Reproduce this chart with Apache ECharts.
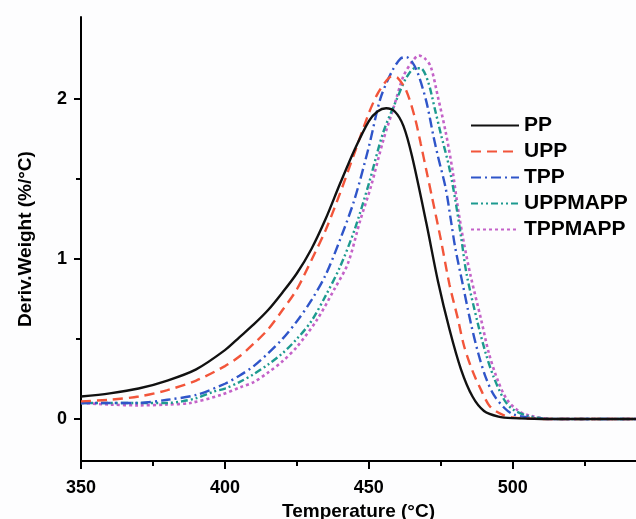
<!DOCTYPE html>
<html>
<head>
<meta charset="utf-8">
<script src="https://cdn.jsdelivr.net/npm/echarts@6/dist/echarts.min.js"></script>
<style>
html,body{margin:0;padding:0;background:#fdfdfe;}
#c{width:636px;height:519px;}
</style>
</head>
<body>
<div id="c"></div>
<script>
// ---- data ----
const seriesNames = ['PP', 'UPP', 'TPP', 'UPPMAPP', 'TPPMAPP'];

const ppT = [350,360,370,380,390,400,405,410,415,420,425,430,435,440,445,450,453,456,459,462,465,470,474,478,482,486,490,495,500,510,543];
const ppV = [0.14,0.16,0.19,0.24,0.31,0.43,0.51,0.59,0.68,0.79,0.91,1.06,1.25,1.47,1.68,1.86,1.92,1.94,1.92,1.83,1.64,1.22,0.86,0.56,0.31,0.14,0.05,0.015,0.005,0,0];

const uppT = [350,360,370,380,390,400,405,410,415,420,425,430,435,440,445,450,453,456,458,460,463,466,468,470,472,475,478,481,483,486,489,492,496,500,510,543];
const uppV = [0.11,0.12,0.14,0.18,0.24,0.33,0.39,0.47,0.56,0.68,0.81,0.99,1.18,1.41,1.66,1.91,2.03,2.11,2.14,2.13,2.05,1.88,1.72,1.55,1.38,1.12,0.84,0.62,0.46,0.30,0.18,0.08,0.03,0.01,0,0];

const tppT = [350,360,370,380,390,400,405,410,415,420,425,430,435,440,445,450,454,458,461,463,465,467,470,472.5,474,476.7,478.5,480,482.5,485.4,488,490.6,493.4,497,500,505,512,543];
const tppV = [0.10,0.10,0.10,0.12,0.15,0.22,0.27,0.33,0.41,0.50,0.61,0.74,0.90,1.12,1.37,1.70,2.00,2.17,2.25,2.26,2.23,2.16,1.98,1.76,1.64,1.44,1.24,1.07,0.85,0.60,0.41,0.26,0.15,0.07,0.03,0.01,0,0];

const uppmappT = [350,360,370,380,385,390,396,400,405,410,415,420,425,430,435,440,445,450,455,460,463,466,468,470.5,473,475,477.8,480,482,484,487.8,490.6,493.4,497,500,505,510,516,543];
const uppmappV = [0.10,0.10,0.10,0.10,0.11,0.13,0.17,0.19,0.23,0.28,0.34,0.41,0.50,0.61,0.77,0.95,1.18,1.47,1.79,2.01,2.13,2.19,2.19,2.11,1.93,1.78,1.58,1.37,1.14,0.90,0.60,0.41,0.26,0.12,0.06,0.02,0.005,0,0];

const tppmappT = [350,360,370,380,388,398.6,405.6,410,415,420,425,432,438,442.7,447,450.7,455,458.7,462,465,467.4,469.5,471.5,474,476.7,479,481,483,485.4,489,491.7,494.8,498,502,506,514,543];
const tppmappV = [0.10,0.09,0.085,0.09,0.10,0.15,0.20,0.23,0.29,0.36,0.45,0.62,0.81,0.97,1.24,1.45,1.74,1.95,2.14,2.23,2.27,2.25,2.20,2.01,1.79,1.56,1.31,1.10,0.89,0.62,0.41,0.24,0.12,0.05,0.02,0,0];

const xMajorTicks = [350,400,450,500];
const xMinorTicks = [375,425,475,525];
const yMajorTicks = [0,1,2];
const yMinorTicks = [0.5,1.5];

const colors = ['#111111', '#f2553a', '#2f55c9', '#1d9a8f', '#c462c8'];
const dashes = ['solid', [10,6], [10,4,2,4], [7,3,2,3,2,3], [3,3]];
const widths = [2.4, 2.4, 2.4, 2.4, 2.6];

const xs = [ppT, uppT, tppT, uppmappT, tppmappT];
const ys = [ppV, uppV, tppV, uppmappV, tppmappV];

function pairs(t, v){ return t.map((x,i)=>[x, v[i]]); }

const FONT = '"Liberation Sans", Arial, sans-serif';
const xMin = 350, xMax = 542.8, yMin = -0.2625, yMax = 2.51;

const chart = echarts.init(document.getElementById('c'), null, {renderer:'canvas'});

const baseX = {type:'value', min:xMin, max:xMax, splitLine:{show:false}};
const baseY = {type:'value', min:yMin, max:yMax, splitLine:{show:false}};

chart.setOption({
  backgroundColor: '#fdfdfe',
  animation: false,
  grid: {left:81, right:0, top:17, bottom:58, containLabel:false, outerBoundsMode:'none'},
  legend: {
    orient:'vertical', left:470, top:115, padding:0,
    itemWidth:48, itemHeight:14, itemGap:5,
    itemStyle:{opacity:0},
    textStyle:{fontFamily:FONT, fontWeight:'bold', fontSize:21, color:'#000'},
    data: seriesNames
  },
  xAxis: [
    Object.assign({}, baseX, {
      position:'bottom',
      name:'Temperature (\u00B0C)', nameLocation:'middle', nameGap:41,
      nameTextStyle:{fontFamily:FONT, fontWeight:'bold', fontSize:19, color:'#000'},
      axisLine:{show:true, onZero:false, lineStyle:{color:'#000', width:2}},
      axisTick:{show:true, inside:false, length:8, lineStyle:{color:'#000', width:2}, customValues:xMajorTicks},
      axisLabel:{show:true, margin:18, fontFamily:FONT, fontWeight:'bold', fontSize:18, color:'#000', customValues:xMajorTicks}
    }),
    Object.assign({}, baseX, {
      position:'bottom',
      axisLine:{show:false, onZero:false},
      axisTick:{show:true, inside:false, length:5, lineStyle:{color:'#000', width:2}, customValues:xMinorTicks},
      axisLabel:{show:false}
    })
  ],
  yAxis: [
    Object.assign({}, baseY, {
      position:'left',
      name:'Deriv.Weight (%/\u00B0C)', nameLocation:'middle', nameGap:46,
      nameTextStyle:{fontFamily:FONT, fontWeight:'bold', fontSize:19, color:'#000'},
      axisLine:{show:true, onZero:false, lineStyle:{color:'#000', width:2}},
      axisTick:{show:true, inside:false, length:7, lineStyle:{color:'#000', width:2}, customValues:yMajorTicks},
      axisLabel:{show:true, margin:14, fontFamily:FONT, fontWeight:'bold', fontSize:18, color:'#000', customValues:yMajorTicks}
    }),
    Object.assign({}, baseY, {
      position:'left',
      axisLine:{show:false, onZero:false},
      axisTick:{show:true, inside:false, length:5, lineStyle:{color:'#000', width:2}, customValues:yMinorTicks},
      axisLabel:{show:false}
    })
  ],
  series: seriesNames.map((n,i)=>({
    name:n, type:'line', xAxisIndex:0, yAxisIndex:0,
    data: pairs(xs[i], ys[i]),
    smooth:0.3, symbol:'none', showSymbol:false,
    lineStyle:{color:colors[i], width:widths[i], type:dashes[i]},
    itemStyle:{color:colors[i]},
    z: 10 - i
  }))
});
</script>
</body>
</html>
